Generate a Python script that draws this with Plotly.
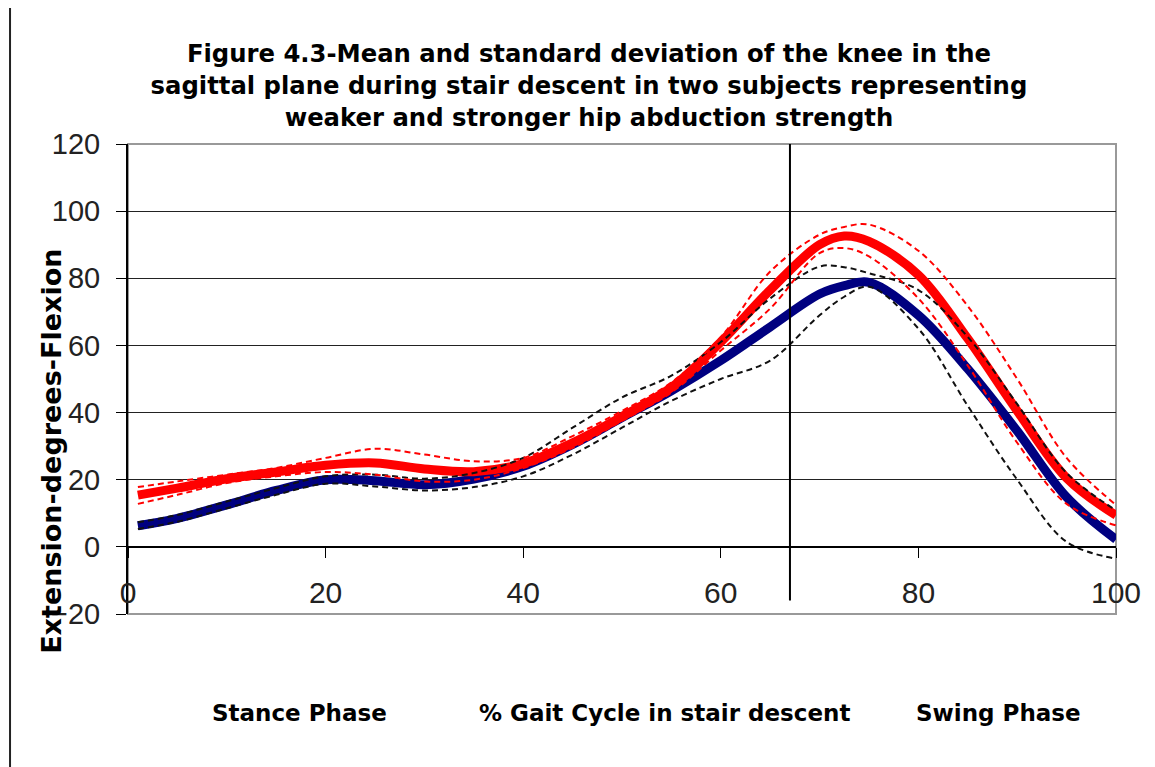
import plotly.graph_objects as go

# % gait cycle
gait_pct = [1, 5, 10, 15, 20, 25, 30, 35, 40, 45, 50, 55, 60, 65, 70, 72.5, 75, 80, 85, 90, 95, 100]

# Stronger subject (blue mean, black dashed +/- SD)
blue_mean = [6.3, 8.5, 12.5, 16.8, 20.0, 19.7, 18.5, 20.2, 24.0, 30.5, 38.5, 46.5, 55.5, 65.5, 75.3, 77.8, 78.8, 69.0, 53.0, 34.5, 14.8, 2.2]
black_upper = [7.3, 9.5, 13.5, 17.5, 21.0, 21.5, 20.3, 22.0, 26.5, 35.5, 44.5, 51.0, 61.0, 74.0, 83.5, 83.3, 81.5, 76.5, 62.5, 42.5, 22.0, 10.9]
black_lower = [5.3, 7.5, 11.5, 15.5, 18.8, 18.0, 16.8, 17.8, 21.0, 27.5, 35.5, 43.5, 50.0, 55.5, 69.0, 74.5, 77.5, 65.0, 42.0, 20.0, 1.5, -3.5]

# Weaker subject (red mean, red dashed +/- SD)
red_mean = [15.4, 17.5, 20.3, 22.3, 24.3, 25.0, 23.2, 22.4, 24.8, 31.0, 38.8, 47.5, 61.0, 76.5, 90.0, 92.6, 91.0, 81.0, 62.0, 40.5, 20.5, 9.4]
red_upper = [17.8, 19.5, 21.5, 23.5, 26.5, 29.2, 27.5, 25.5, 26.5, 33.0, 40.5, 49.0, 62.5, 82.0, 93.0, 95.3, 96.0, 88.2, 71.7, 50.0, 26.5, 12.5]
red_lower = [12.8, 15.5, 19.0, 21.0, 22.3, 21.5, 19.5, 20.0, 23.5, 29.5, 37.5, 46.0, 58.5, 71.0, 87.5, 89.0, 86.5, 74.0, 54.0, 31.0, 12.8, 6.4]

phase_boundary = 67
x_ticks = [0, 20, 40, 60, 80, 100]
y_ticks = [-20, 0, 20, 40, 60, 80, 100, 120]

title_text = ("Figure 4.3-Mean and standard deviation of the knee in the<br>"
              "sagittal plane during stair descent in two subjects representing<br>"
              "weaker and stronger hip abduction strength")
y_title = "Extension-degrees-Flexion"
bottom_labels = ["Stance Phase", "% Gait Cycle in stair descent", "Swing Phase"]

FONT = "Liberation Sans, Arial, sans-serif"
BOLD_FONT = "DejaVu Sans, sans-serif"

fig = go.Figure()
fig.add_trace(go.Scatter(x=gait_pct, y=blue_mean, mode="lines", line=dict(color="#000080", width=9, shape="spline"), name="Stronger mean"))
fig.add_trace(go.Scatter(x=gait_pct, y=red_mean, mode="lines", line=dict(color="#FF0000", width=9, shape="spline"), name="Weaker mean"))
fig.add_trace(go.Scatter(x=gait_pct, y=black_upper, mode="lines", line=dict(color="#111111", width=2, dash="6px,4px", shape="spline"), name="Stronger +SD"))
fig.add_trace(go.Scatter(x=gait_pct, y=black_lower, mode="lines", line=dict(color="#111111", width=2, dash="6px,4px", shape="spline"), name="Stronger -SD"))
fig.add_trace(go.Scatter(x=gait_pct, y=red_upper, mode="lines", line=dict(color="#FF0000", width=2, dash="6px,4px", shape="spline"), name="Weaker +SD"))
fig.add_trace(go.Scatter(x=gait_pct, y=red_lower, mode="lines", line=dict(color="#FF0000", width=2, dash="6px,4px", shape="spline"), name="Weaker -SD"))

# plot border (gray)
fig.add_shape(type="rect", xref="paper", yref="paper", x0=0, x1=1, y0=0, y1=1,
              line=dict(color="#999999", width=2), layer="below")
# phase boundary line
fig.add_shape(type="line", xref="x", yref="y", x0=phase_boundary, x1=phase_boundary, y0=-16, y1=120,
              line=dict(color="black", width=2))
# left page rule
fig.add_shape(type="line", xref="paper", yref="paper", x0=-0.1194, x1=-0.1194, y0=1.296, y1=-0.35,
              line=dict(color="#222222", width=2))

fig.add_annotation(text="<b>" + y_title + "</b>", xref="paper", yref="paper", x=-0.077, y=0.347,
                   xanchor="center", yanchor="middle", showarrow=False,
                   textangle=-90, font=dict(family=BOLD_FONT, size=27, color="black"))
for lbl, xp in zip(bottom_labels, [0.174, 0.5435, 0.8806]):
    fig.add_annotation(text="<b>" + lbl + "</b>", xref="paper", yref="paper", x=xp, y=-0.2106,
                       xanchor="center", yanchor="middle",
                       showarrow=False, font=dict(family=BOLD_FONT, size=23, color="black"))

fig.update_layout(
    width=1155, height=767,
    margin=dict(l=120, r=47, t=136, b=161),
    paper_bgcolor="white", plot_bgcolor="white",
    showlegend=False,
    title=dict(text="<b>" + title_text + "</b>", xref="container", x=0.503, xanchor="center",
               yref="container", y=0.929, yanchor="top",
               font=dict(family=BOLD_FONT, size=24.3, color="black")),
    xaxis=dict(range=[0, 100], tickvals=x_ticks, ticks="outside", ticklen=10, tickcolor="black",
               showline=True, linecolor="black", linewidth=2, showgrid=False, zeroline=False,
               anchor="free", position=1/7, ticklabelstandoff=9,
               tickfont=dict(family=FONT, size=30, color="#222222")),
    yaxis=dict(range=[-20, 120], tickvals=y_ticks, ticks="outside", ticklen=10, tickcolor="black",
               showline=True, linecolor="black", linewidth=2, showgrid=True, gridcolor="#222222",
               gridwidth=1, zeroline=False, ticklabelstandoff=10,
               tickfont=dict(family=FONT, size=29, color="#222222")),
)

fig.write_html("out.html")
